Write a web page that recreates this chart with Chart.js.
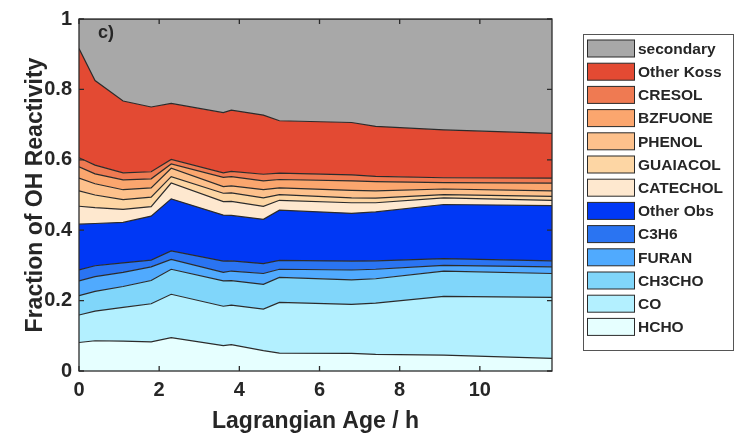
<!DOCTYPE html>
<html>
<head>
<meta charset="utf-8">
<script src="https://cdn.jsdelivr.net/npm/chart.js@4/dist/chart.umd.min.js"></script>
<style>
  html, body { margin: 0; padding: 0; background: #ffffff; }
  #chart { display: block; }
</style>
</head>
<body>
<canvas id="chart" width="735" height="444"></canvas>
<script>
// Lagrangian age of each sample (h)
const hours = [0, 0.4, 1.1, 1.8, 2.3, 3.6, 3.8, 4.6, 5.0, 6.8, 7.4, 9.1, 11.8];
const xTicks = [0, 2, 4, 6, 8, 10];
const yTicks = [0, 0.2, 0.4, 0.6, 0.8, 1];

// fraction of OH reactivity per species, bottom of the stack first
const hcho      = [0.081, 0.086, 0.085, 0.083, 0.095, 0.072, 0.075, 0.058, 0.051, 0.050, 0.047, 0.045, 0.036];
const co        = [0.078, 0.084, 0.096, 0.108, 0.123, 0.112, 0.112, 0.118, 0.144, 0.139, 0.146, 0.167, 0.173];
const ch3cho    = [0.055, 0.056, 0.059, 0.066, 0.071, 0.072, 0.070, 0.070, 0.071, 0.070, 0.069, 0.072, 0.068];
const furan     = [0.042, 0.042, 0.040, 0.039, 0.028, 0.024, 0.027, 0.031, 0.023, 0.028, 0.027, 0.016, 0.019];
const c3h6      = [0.031, 0.031, 0.027, 0.019, 0.024, 0.032, 0.029, 0.028, 0.025, 0.025, 0.024, 0.019, 0.017];
const otherObs  = [0.130, 0.120, 0.115, 0.125, 0.148, 0.131, 0.129, 0.126, 0.143, 0.136, 0.139, 0.154, 0.157];
const catechol  = [0.051, 0.045, 0.037, 0.027, 0.045, 0.038, 0.040, 0.037, 0.028, 0.030, 0.026, 0.019, 0.015];
const guaiacol  = [0.044, 0.036, 0.028, 0.027, 0.018, 0.024, 0.024, 0.024, 0.016, 0.014, 0.013, 0.009, 0.011];
const phenol    = [0.036, 0.032, 0.028, 0.026, 0.024, 0.019, 0.020, 0.023, 0.019, 0.021, 0.021, 0.016, 0.016];
const bzfuone   = [0.032, 0.028, 0.028, 0.026, 0.012, 0.026, 0.026, 0.025, 0.024, 0.027, 0.026, 0.018, 0.022];
const cresol    = [0.026, 0.025, 0.020, 0.020, 0.013, 0.013, 0.015, 0.019, 0.018, 0.017, 0.015, 0.014, 0.014];
const otherKoss = [0.310, 0.240, 0.204, 0.184, 0.159, 0.171, 0.174, 0.168, 0.149, 0.149, 0.142, 0.136, 0.127];
const secondary = [0.084, 0.175, 0.233, 0.250, 0.240, 0.266, 0.259, 0.273, 0.289, 0.294, 0.305, 0.315, 0.325];

const species = [
  { label: 'HCHO',       values: hcho,      color: '#e6ffff' },
  { label: 'CO',         values: co,        color: '#b3f0ff' },
  { label: 'CH3CHO',     values: ch3cho,    color: '#80d6fa' },
  { label: 'FURAN',      values: furan,     color: '#50aafe' },
  { label: 'C3H6',       values: c3h6,      color: '#2a74f2' },
  { label: 'Other Obs',  values: otherObs,  color: '#0038f5' },
  { label: 'CATECHOL',   values: catechol,  color: '#fee8cf' },
  { label: 'GUAIACOL',   values: guaiacol,  color: '#fdd6a4' },
  { label: 'PHENOL',     values: phenol,    color: '#fdc18c' },
  { label: 'BZFUONE',    values: bzfuone,   color: '#fba66e' },
  { label: 'CRESOL',     values: cresol,    color: '#ef7a52' },
  { label: 'Other Koss', values: otherKoss, color: '#e34a33' },
  { label: 'secondary',  values: secondary, color: '#a8a8a8' }
];

const LINE = '#2b2b2b';
const TEXT = '#262626';
const FONT = "'Liberation Sans', Arial, sans-serif";

// frame with inward ticks on all four sides, panel tag, boxed legend
const framePlugin = {
  id: 'frame',
  afterDatasetsDraw(chart) {
    const { ctx, chartArea: a, scales } = chart;
    ctx.save();
    ctx.strokeStyle = LINE;
    ctx.lineWidth = 1.3;
    ctx.strokeRect(a.left, a.top, a.right - a.left, a.bottom - a.top);
    ctx.beginPath();
    xTicks.forEach(v => {
      const px = scales.x.getPixelForValue(v);
      ctx.moveTo(px, a.bottom); ctx.lineTo(px, a.bottom - 5);
      ctx.moveTo(px, a.top); ctx.lineTo(px, a.top + 5);
    });
    yTicks.forEach(v => {
      const py = scales.y.getPixelForValue(v);
      ctx.moveTo(a.left, py); ctx.lineTo(a.left + 5, py);
      ctx.moveTo(a.right, py); ctx.lineTo(a.right - 5, py);
    });
    ctx.stroke();

    ctx.fillStyle = TEXT;
    ctx.font = 'bold 18px ' + FONT;
    ctx.textBaseline = 'middle';
    ctx.fillText('c)', 98, 33);
    ctx.restore();
  },
  afterDraw(chart) {
    const ctx = chart.ctx;
    const sets = chart.data.datasets.slice().reverse();
    const boxX = 583, boxY = 34, boxW = 150, boxH = 316;
    ctx.save();
    ctx.strokeStyle = '#555555';
    ctx.lineWidth = 1;
    ctx.strokeRect(boxX + 0.5, boxY + 0.5, boxW, boxH);
    ctx.font = 'bold 15.5px ' + FONT;
    ctx.textBaseline = 'middle';
    sets.forEach((ds, i) => {
      const cy = 48.5 + i * 23.2;
      ctx.fillStyle = ds.backgroundColor;
      ctx.fillRect(587.5, cy - 8.5, 47, 17);
      ctx.strokeStyle = LINE;
      ctx.strokeRect(587.5, cy - 8.5, 47, 17);
      ctx.fillStyle = TEXT;
      ctx.fillText(ds.label, 638, cy + 1);
    });
    ctx.restore();
  }
};

new Chart(document.getElementById('chart'), {
  type: 'line',
  data: {
    datasets: species.map((s, i) => ({
      label: s.label,
      data: hours.map((h, j) => ({ x: h, y: s.values[j] })),
      backgroundColor: s.color,
      borderColor: LINE,
      borderWidth: 1.2,
      fill: i === 0 ? 'origin' : '-1',
      pointRadius: 0,
      tension: 0
    }))
  },
  options: {
    responsive: false,
    animation: false,
    devicePixelRatio: 1,
    layout: { padding: { top: 13, right: 183, left: 0, bottom: 0 } },
    plugins: {
      legend: { display: false },
      tooltip: { enabled: false }
    },
    scales: {
      x: {
        type: 'linear',
        min: 0,
        max: 11.8,
        grid: { display: false, drawTicks: false },
        border: { display: false },
        afterBuildTicks: scale => { scale.ticks = xTicks.map(v => ({ value: v })); },
        afterFit: scale => { scale.height = 73; },
        ticks: {
          color: TEXT,
          padding: 7,
          maxRotation: 0,
          font: { family: FONT, size: 20, weight: 'bold' }
        },
        title: {
          display: true,
          text: 'Lagrangian Age / h',
          color: TEXT,
          padding: { top: 3, bottom: 9 },
          font: { family: FONT, size: 23, weight: 'bold' }
        }
      },
      y: {
        stacked: true,
        min: 0,
        max: 1,
        grid: { display: false, drawTicks: false },
        border: { display: false },
        afterBuildTicks: scale => { scale.ticks = yTicks.map(v => ({ value: v })); },
        afterFit: scale => { scale.width = 79; },
        ticks: {
          color: TEXT,
          padding: 7,
          callback: v => String(v),
          font: { family: FONT, size: 20, weight: 'bold' }
        },
        title: {
          display: true,
          text: 'Fraction of OH Reactivity',
          color: TEXT,
          padding: { top: 22, bottom: 0 },
          font: { family: FONT, size: 23, weight: 'bold' }
        }
      }
    }
  },
  plugins: [framePlugin]
});
</script>
</body>
</html>
